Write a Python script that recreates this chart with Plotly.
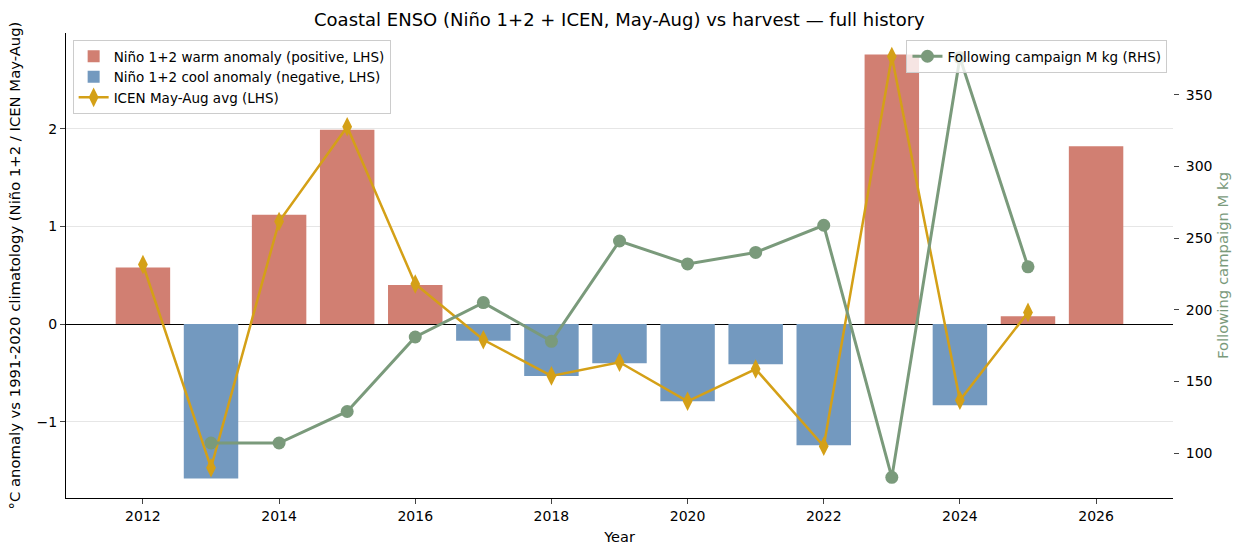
import plotly.graph_objects as go

years = list(range(2012, 2027))
nino12 = [0.58, -1.58, 1.12, 1.99, 0.40, -0.17, -0.53, -0.40, -0.79, -0.41, -1.24, 2.76, -0.83, 0.08, 1.82]
icen_years = list(range(2012, 2026))
icen = [0.61, -1.47, 1.05, 2.02, 0.41, -0.16, -0.53, -0.39, -0.79, -0.46, -1.25, 2.74, -0.78, 0.12]
camp_years = list(range(2013, 2026))
campaign = [107, 107, 129, 181, 205, 178, 248, 232, 240, 259, 83, 376, 230]

WARM = "#d17f72"
COOL = "#7399bf"
GOLD = "#d4a017"
GREEN = "#7a9a7b"

warm = [v if v >= 0 else None for v in nino12]
cool = [v if v < 0 else None for v in nino12]

FONT = "DejaVu Sans"
fig = go.Figure()
fig.add_trace(go.Bar(x=years, y=warm, width=0.8, marker=dict(color=WARM, line=dict(width=0)),
                     name="Niño 1+2 warm anomaly (positive, LHS)", legend="legend"))
fig.add_trace(go.Bar(x=years, y=cool, width=0.8, marker=dict(color=COOL, line=dict(width=0)),
                     name="Niño 1+2 cool anomaly (negative, LHS)", legend="legend"))
fig.add_trace(go.Scatter(x=icen_years, y=icen, mode="lines+markers",
                         line=dict(color=GOLD, width=2.5),
                         marker=dict(symbol="diamond-tall", size=14, color=GOLD),
                         name="ICEN May-Aug avg (LHS)", legend="legend"))
fig.add_trace(go.Scatter(x=camp_years, y=campaign, mode="lines+markers", yaxis="y2",
                         line=dict(color=GREEN, width=3),
                         marker=dict(symbol="circle", size=13, color=GREEN),
                         name="Following campaign M kg (RHS)", legend="legend2"))

fig.update_layout(
    width=1245, height=557,
    margin=dict(l=66, r=72, t=33, b=59),
    paper_bgcolor="white", plot_bgcolor="white",
    font=dict(family=FONT, size=14, color="black"),
    barmode="overlay",
    title=dict(text="Coastal ENSO (Niño 1+2 + ICEN, May-Aug) vs harvest — full history",
               x=0.4975, xanchor="center", y=0.965, yanchor="middle", font=dict(size=18)),
    xaxis=dict(range=[2010.87, 2027.13], tickmode="array", tickvals=list(range(2012, 2027, 2)),
               ticks="outside", ticklen=5, showline=True, linecolor="black", linewidth=1,
               showgrid=False, zeroline=False, title=dict(text="Year", font=dict(size=14.5), standoff=9),
               tickfont=dict(size=14)),
    yaxis=dict(range=[-1.78, 2.98], tickmode="array", tickvals=[-1, 0, 1, 2],
               ticktext=["−1", "0", "1", "2"],
               ticks="outside", ticklen=5, showline=True, linecolor="black", linewidth=1,
               showgrid=True, gridcolor="#e6e6e6", gridwidth=1,
               zeroline=True, zerolinecolor="black", zerolinewidth=1,
               title=dict(text="°C anomaly vs 1991-2020 climatology (Niño 1+2 / ICEN May-Aug)",
                          font=dict(size=14.8), standoff=12),
               tickfont=dict(size=14)),
    yaxis2=dict(overlaying="y", side="right", range=[68.6, 393.2],
                tickmode="array", tickvals=[100, 150, 200, 250, 300, 350],
                ticks="outside", ticklen=5, ticklabelstandoff=4,
                showline=False, showgrid=False, zeroline=False,
                title=dict(text="Following campaign M kg", font=dict(size=14.8, color=GREEN), standoff=6),
                tickfont=dict(size=14)),
    legend=dict(x=0.006, y=0.985, xanchor="left", yanchor="top",
                bgcolor="rgba(255,255,255,0.8)", bordercolor="#cccccc", borderwidth=1,
                font=dict(size=13.5), tracegroupgap=0),
    legend2=dict(x=0.995, y=0.985, xanchor="right", yanchor="top",
                 bgcolor="rgba(255,255,255,0.8)", bordercolor="#cccccc", borderwidth=1,
                 font=dict(size=13.5)),
)

fig.write_html("out.html")
